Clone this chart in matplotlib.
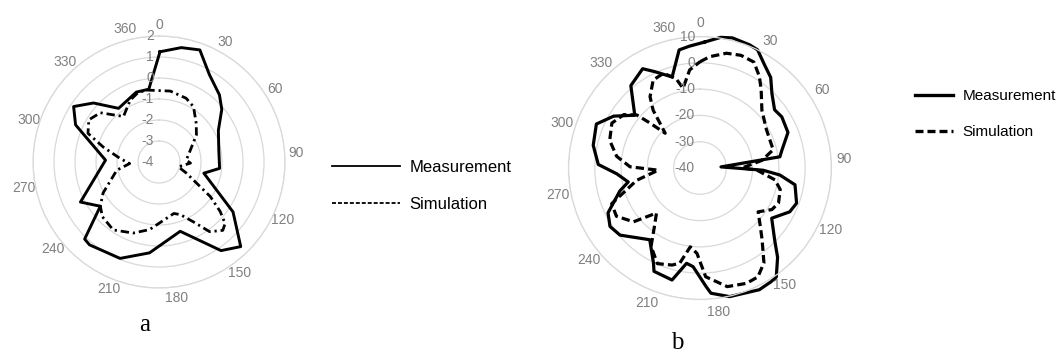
import numpy as np
import matplotlib
matplotlib.use("Agg")
import matplotlib.pyplot as plt
from matplotlib.lines import Line2D
from matplotlib.transforms import offset_copy

plt.rcParams['font.family'] = ['Liberation Sans', 'DejaVu Sans']

# angle categories 0..360 step 15 (25 spokes), labelled every 30
angle_labels = [0, 30, 60, 90, 120, 150, 180, 210, 240, 270, 300, 330, 360]
n_cat = 25

# chart a: position on the dial (deg) and level
a_meas_ang = [0.5, 11, 20, 30, 42, 50, 62, 79, 96, 104, 124, 136, 145, 163, 186, 202, 220, 224,
              233, 243, 272, 294, 303, 312, 323, 342, 352]
a_meas_val = [1.25, 1.55, 1.68, 0.8, 0.3, -0.1, -0.8, -1.1, -1.1, -1.8, 0.25, 1.6, 1.15, -0.55,
              0.35, 0.95, 1.15, 1.1, -0.5, 0.2, -1.45, 0.35, 0.85, 0.2, -0.8, -0.5, -0.5]
a_sim_ang = [350, 9, 23, 32, 44, 54, 69, 86, 92, 104, 112, 124, 129, 133, 137, 144, 150, 158, 164,
             188, 200, 214, 226, 233, 241, 259, 267, 275, 285, 292, 301, 310, 322, 335, 343]
a_sim_val = [-0.52, -0.58, -0.7, -0.9, -1.45, -1.8, -2.4, -2.7, -2.5, -3.05, -2.6, -1.05, -0.25,
             0.3, 0.45, 0.1, -0.7, -1.3, -1.45, -0.75, -0.4, -0.1, -0.25, -0.5, -0.95, -1.95,
             -2.6, -2.15, -1.25, -0.35, -0.1, -0.35, -1.25, -0.75, -0.55]
a_rticks = [-4, -3, -2, -1, 0, 1, 2]

# chart b
b_meas_ang = [2, 9, 14, 22, 26, 32, 38, 44, 52, 58, 68, 78, 82, 87, 92, 95, 100, 110, 116, 125,
              134, 139, 145, 148, 154, 167, 175, 177, 184, 188, 194, 204, 206, 215, 230, 237, 244,
              254, 259, 266, 272, 282, 293, 301, 309, 320, 330, 335, 343, 350, 355]
b_meas_val = [7.9, 10.3, 11, 10.5, 10, 6.3, 3.7, -0.6, -4, -3.3, -3.9, -8.2, -9.3, -32, -16, -9.5,
              -3.3, -0.9, -2, -6.7, -0.5, 5, 10.6, 11, 11.5, 10.2, 7.8, 5.2, -2.4, -3.4, 3.9, 3,
              0.3, -6.7, -0.3, 0.8, -1.1, -8.3, -12.2, -8.3, -1.3, 1.5, 2.8, -1.7, -8.1, 0.9, 3.6,
              0.4, -3.8, 5.6, 6.5]
b_sim_ang = [0, 5, 13, 20, 27, 33, 38, 47, 60, 76, 83, 90, 92, 99, 105, 114, 120, 127, 134, 139,
             146, 152, 158, 167, 177, 182, 187, 192, 196, 204, 212, 218, 224, 231, 240, 248, 259,
             267, 271, 278, 287, 297, 305, 310, 312, 315, 321, 325, 332, 339, 345, 348, 354]
b_sim_val = [0.4, 2.5, 4.8, 5.6, 5.2, 1.5, -2.2, -7.8, -10.8, -11.3, -16.3, -24, -18.4, -11.1,
             -8.4, -7.3, -8.4, -12.3, -8.1, -4, 3.5, 6.9, 7.3, 6.3, 1.4, -7.5, -9.8, -3, -1.6,
             -0.2, -4.9, -11.9, -16.2, -7.5, -3.3, -3.8, -15.5, -24.1, -13.4, -8, -4.1, -2.4,
             -4.6, -8.6, -14.5, -21.3, -11.7, -6.9, -2.1, -1.4, -4.8, -9, -2.5]
b_rticks = [-40, -30, -20, -10, 0, 10]

gray = '#808080'


def closed(ang, val):
    t = np.radians(list(ang) + [ang[0]])
    return t, list(val) + [val[0]]


def setup(ax, rticks, pad):
    ax.set_theta_zero_location('N')
    ax.set_theta_direction(-1)
    ax.set_ylim(rticks[0], rticks[-1])
    ax.set_yticks(rticks)
    ax.set_yticklabels([])
    label_pos = [2 * k * 360 / n_cat for k in range(len(angle_labels))]
    ax.set_xticks(np.radians(label_pos))
    ax.set_xticklabels([str(a) for a in angle_labels], color=gray, fontsize=10)
    ax.tick_params(axis='x', length=0, pad=pad)
    ax.tick_params(axis='y', length=0)
    ax.xaxis.grid(False)
    ax.yaxis.grid(True, color='#d9d9d9', lw=0.9)
    ax.spines['polar'].set_color('#d9d9d9')
    ax.spines['polar'].set_linewidth(0.9)
    tr = offset_copy(ax.transData, fig=ax.figure, x=-5, y=0, units='dots')
    for v in rticks:
        ax.text(0, v, str(v), transform=tr, ha='right', va='center', color=gray, fontsize=10)


fig = plt.figure(figsize=(10.62, 3.58), dpi=100)

# chart a
ax1 = fig.add_axes([0.0311, 0.1955, 0.2373, 0.7039], projection='polar')
setup(ax1, a_rticks, 1)
t, r = closed(a_meas_ang, a_meas_val)
ax1.plot(t, r, color='black', lw=2.1, clip_on=False)
t, r = closed(a_sim_ang, a_sim_val)
ax1.plot(t, r, color='black', lw=2.0, ls=(0, (3, 1.4, 0.8, 1.4)), clip_on=False)

# chart b
ax2 = fig.add_axes([0.5353, 0.1634, 0.2476, 0.7346], projection='polar')
setup(ax2, b_rticks, 2.5)
t, r = closed(b_meas_ang, b_meas_val)
ax2.plot(t, r, color='black', lw=2.3, clip_on=False)
t, r = closed(b_sim_ang, b_sim_val)
ax2.plot(t, r, color='black', lw=2.3, ls=(0, (2.6, 1.3)), clip_on=False)

# legends
h_a = [Line2D([], [], color='black', lw=1.3),
       Line2D([], [], color='black', lw=1.3, ls=(0, (2.2, 1.1)))]
fig.legend(h_a, ['Measurement', 'Simulation'], loc='center left',
           bbox_to_anchor=(332 / 1062, 1 - 186 / 358), bbox_transform=fig.transFigure,
           frameon=False, borderpad=0, borderaxespad=0, handlelength=4.1,
           handletextpad=0.55, labelspacing=1.28, fontsize=12)

h_b = [Line2D([], [], color='black', lw=2.4),
       Line2D([], [], color='black', lw=2.4, ls=(0, (2.4, 1.2)))]
fig.legend(h_b, ['Measurement', 'Simulation'], loc='center left',
           bbox_to_anchor=(915 / 1062, 1 - 114 / 358), bbox_transform=fig.transFigure,
           frameon=False, borderpad=0, borderaxespad=0, handlelength=2.5,
           handletextpad=0.6, labelspacing=1.45, fontsize=11)

fig.text(145 / 1062, 1 - 325 / 358, 'a', family='Liberation Serif', fontsize=18,
         ha='center', va='center')
fig.text(677 / 1062, 1 - 343 / 358, 'b', family='Liberation Serif', fontsize=18,
         ha='center', va='center')

fig.savefig('out.png', dpi=100)
